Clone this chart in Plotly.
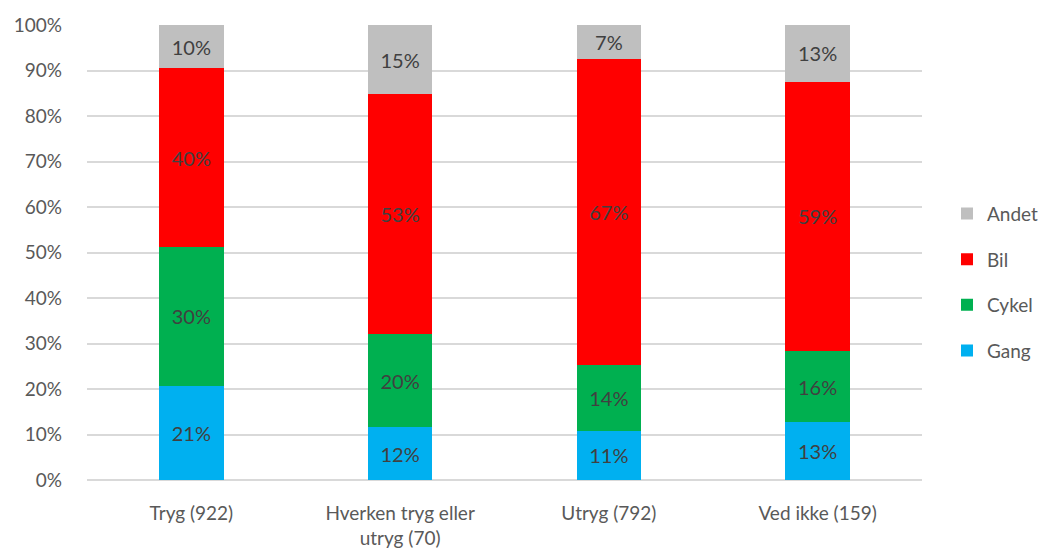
import plotly.graph_objects as go

categories = ["Tryg (922)", "Hverken tryg eller<br>utryg (70)", "Utryg (792)", "Ved ikke (159)"]
gang = [20.7, 11.6, 10.8, 12.7]
cykel = [30.5, 20.5, 14.5, 15.7]
bil = [39.3, 52.7, 67.3, 59.1]
andet = [9.5, 15.2, 7.4, 12.5]
gang_lbl = ["21%", "12%", "11%", "13%"]
cykel_lbl = ["30%", "20%", "14%", "16%"]
bil_lbl = ["40%", "53%", "67%", "59%"]
andet_lbl = ["10%", "15%", "7%", "13%"]

series = [
    ("Gang", gang, gang_lbl, "#00b0f0", 4),
    ("Cykel", cykel, cykel_lbl, "#00b050", 3),
    ("Bil", bil, bil_lbl, "#ff0000", 2),
    ("Andet", andet, andet_lbl, "#bfbfbf", 1),
]

FONT = "Lato"
FS = 19
fig = go.Figure()
for name, vals, lbls, col, rank in series:
    fig.add_trace(go.Bar(
        x=categories, y=vals, name=name, marker=dict(color=col, line=dict(width=0)),
        text=lbls, textposition="inside", insidetextanchor="middle",
        textfont=dict(family=FONT, size=20, color="#404040"),
        legendgroup=name, legendrank=rank, width=0.31,
    ))

W, H = 1047, 551
L, R, T, B = 87, 0, 25, 71
plot_right = 922
fig.update_layout(
    barmode="stack",
    width=W, height=H,
    margin=dict(l=L, r=R, t=T, b=B),
    plot_bgcolor="white", paper_bgcolor="white",
    font=dict(family=FONT, size=FS, color="#595959"),
    uniformtext=dict(mode="show", minsize=20),
    legend=dict(x=(947 - L) / (W - L - R), y=0.435, yanchor="middle", xanchor="left",
                traceorder="grouped", tracegroupgap=18,
                font=dict(family=FONT, size=FS, color="#595959"),
                itemwidth=30),
    xaxis=dict(domain=[0, (plot_right - L) / (W - L - R)],
               showgrid=False, showline=False, ticks="", tickfont=dict(size=FS),
               automargin=False, ticklabelstandoff=20),
    yaxis=dict(range=[0, 100], dtick=10, ticksuffix="%", showgrid=True,
               gridcolor="#d9d9d9", gridwidth=1.5, zeroline=True, zerolinecolor="#d9d9d9",
               zerolinewidth=1.5, showline=False, ticks="", tickfont=dict(size=FS),
               automargin=False, ticklabelstandoff=24),
)

fig.write_html("out.html", config={"displayModeBar": False},
               post_script="document.body.style.margin='0';")
